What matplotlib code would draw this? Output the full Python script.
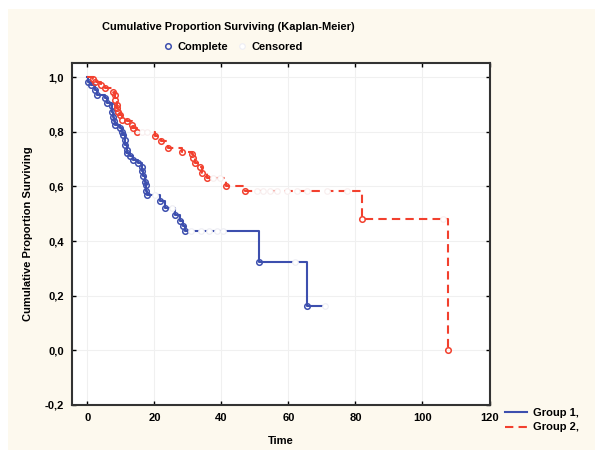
import numpy as np
import matplotlib.pyplot as plt
from matplotlib.patches import Rectangle
from matplotlib.lines import Line2D

plt.rcParams['font.family'] = ['Liberation Sans', 'DejaVu Sans']
plt.rcParams['font.weight'] = 'bold'

# group 1: event times and survival after each event
g1_time = [0.3, 1.2, 2.2, 2.8, 5.2, 5.7, 7.2, 7.3, 7.7, 7.8, 8.2, 9.7, 10.2, 10.7,
           11.2, 11.3, 11.7, 11.8, 12.7, 13.7, 15.2, 16.2, 16.3, 16.7, 17.2, 17.4,
           17.6, 17.7, 21.6, 23.1, 26.1, 27.6, 28.4, 29.0, 51.2, 65.4]
g1_surv = [0.984, 0.972, 0.954, 0.935, 0.923, 0.905, 0.893, 0.874, 0.856, 0.838,
           0.826, 0.815, 0.801, 0.789, 0.771, 0.752, 0.734, 0.723, 0.710, 0.698,
           0.686, 0.673, 0.655, 0.637, 0.618, 0.606, 0.582, 0.570, 0.545, 0.521,
           0.497, 0.472, 0.455, 0.436, 0.325, 0.164]
g1_cens = [20.1, 25.1, 31.0, 34.0, 36.3, 38.6, 40.5, 62.0, 71.0]

# group 2
g2_time = [1.7, 2.2, 4.2, 5.2, 7.7, 8.2, 8.3, 8.7, 8.8, 9.2, 9.7, 10.2, 11.7, 13.2,
           13.7, 14.7, 20.1, 22.1, 24.1, 28.1, 31.1, 31.6, 32.1, 33.6, 34.1, 35.6,
           41.5, 47.0, 81.8, 107.7]
g2_surv = [0.993, 0.984, 0.972, 0.960, 0.947, 0.935, 0.917, 0.899, 0.887, 0.874,
           0.862, 0.844, 0.838, 0.826, 0.814, 0.801, 0.783, 0.767, 0.740, 0.728,
           0.718, 0.704, 0.686, 0.670, 0.649, 0.631, 0.600, 0.582, 0.482, 0.0]
g2_cens = [16.2, 17.7, 37.5, 39.5, 50.5, 52.5, 54.5, 56.5, 59.5, 62.5, 65.4, 71.4, 77.4, 106.2]

blue = '#3d4fae'
red = '#f2402e'

def level(times, surv, t):
    i = np.searchsorted(times, t, side='right')
    return 1.0 if i == 0 else surv[i - 1]

fig = plt.figure(figsize=(5.95, 4.5), dpi=100)
fig.patch.set_facecolor('white')
fig.patches.append(Rectangle((8 / 595, 0), 1, 441 / 450, transform=fig.transFigure,
                             facecolor='#fdf9ee', edgecolor='none', zorder=-1))
ax = fig.add_axes([72 / 595, 45 / 450, 417.5 / 595, 342 / 450])

x1 = [0] + g1_time + [g1_cens[-1]]
y1 = [1.0] + g1_surv + [g1_surv[-1]]
ax.step(x1, y1, where='post', color=blue, lw=1.5, zorder=2)
x2 = [0] + g2_time
y2 = [1.0] + g2_surv
ax.step(x2, y2, where='post', color=red, lw=1.5, dashes=(4, 2.5), zorder=2)

ax.plot(g1_time, g1_surv, 'o', ms=4, mfc='none', mec=blue, mew=1.1, zorder=3)
ax.plot(g2_time, g2_surv, 'o', ms=4, mfc='none', mec=red, mew=1.1, zorder=3)

c1 = [level(g1_time, g1_surv, t) for t in g1_cens]
c2 = [level(g2_time, g2_surv, t) for t in g2_cens]
ax.plot(g1_cens, c1, 'o', ms=4, mfc='white', mec='#eeeef4', mew=0.8, zorder=4)
ax.plot(g2_cens, c2, 'o', ms=4, mfc='white', mec='#f8eeee', mew=0.8, zorder=4)

ax.set_xlim(-4.6, 120)
ax.set_ylim(-0.2, 1.052)
ax.set_xticks(np.arange(0, 121, 20))
ax.set_yticks(np.arange(-0.2, 1.01, 0.2))
ax.set_yticklabels([('%.1f' % v).replace('.', ',').replace('-0,0', '0,0') for v in np.arange(-0.2, 1.01, 0.2)])
ax.tick_params(direction='in', length=3, width=1, labelsize=8, top=True, right=True, pad=6)
ax.grid(True, color='#f0f0f0', lw=0.8)
ax.set_axisbelow(True)
for s in ax.spines.values():
    s.set_linewidth(1.5)
    s.set_color('#333333')

ax.set_xlabel('Time', fontsize=8, fontweight='bold', labelpad=9)
ax.set_ylabel('Cumulative Proportion Surviving', fontsize=8, fontweight='bold', labelpad=8)

fig.text(228 / 595, 1 - 27 / 450, 'Cumulative Proportion Surviving (Kaplan-Meier)',
         ha='center', va='center', fontsize=7.9, fontweight='bold')
leg_handles = [Line2D([], [], ls='none', marker='o', ms=4, mfc='none', mec=blue, mew=1.1),
               Line2D([], [], ls='none', marker='o', ms=4, mfc='white', mec='#eeeef4', mew=0.8)]
fig.legend(leg_handles, ['Complete', 'Censored'], loc='center', bbox_to_anchor=(232 / 595, 1 - 47 / 450),
           ncol=2, frameon=False, fontsize=8, handlelength=1.2, handletextpad=0.3, columnspacing=0.6)

grp_handles = [Line2D([], [], color=blue, lw=1.5),
               Line2D([], [], color=red, lw=1.5, dashes=(4, 2.5))]
fig.legend(grp_handles, ['Group 1,', 'Group 2,'], loc='upper left', bbox_to_anchor=(495 / 595, 1 - 398 / 450),
           frameon=False, fontsize=8, handlelength=2.0, handletextpad=0.5, labelspacing=0.4)

fig.savefig('out.png', dpi=100, facecolor=fig.get_facecolor())
